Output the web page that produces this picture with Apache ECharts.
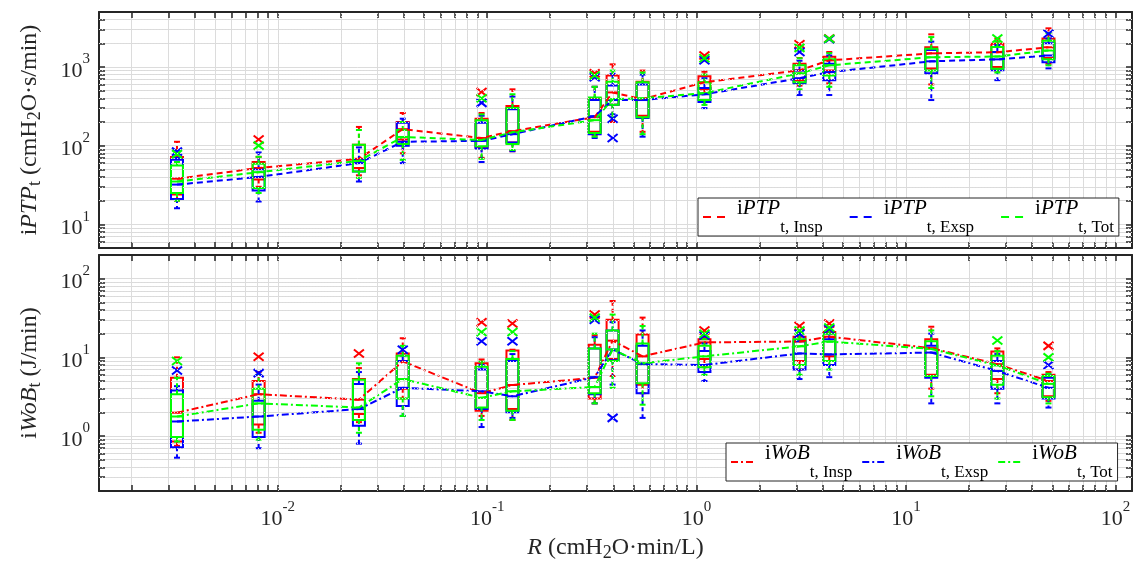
<!DOCTYPE html>
<html>
<head>
<meta charset="utf-8">
<script src="https://cdn.jsdelivr.net/npm/echarts@6/dist/echarts.min.js"></script>
<style>
  html, body { margin: 0; padding: 0; background: #fff; }
  #chart { width: 1138px; height: 567px; }
</style>
</head>
<body>
<div id="chart"></div>
<script>
// resistance levels (x positions of the boxes)
const resistance = [0.0033, 0.0081, 0.0244, 0.0395, 0.094, 0.132, 0.326, 0.397, 0.552, 1.09, 3.1, 4.3, 13.2, 27.3, 47.9];

// box stats: [min, Q1, median, Q3, max]
const ptpInsp = [
  [20, 24, 38, 72, 112], [30, 37, 52, 62, 72], [42, 52, 68, 103, 173], [80, 120, 162, 200, 260],
  [70, 95, 125, 220, 260], [85, 110, 153, 320, 520], [135, 150, 230, 400, 560], [200, 330, 475, 780, 1080],
  [150, 240, 390, 650, 900], [460, 520, 640, 760, 870], [580, 680, 907, 1100, 1300], [620, 900, 1215, 1350, 1550],
  [600, 960, 1490, 1780, 2600], [900, 1000, 1540, 1970, 2300], [1100, 1300, 1780, 2300, 3100]
];
const ptpExsp = [
  [16, 21, 32, 66, 70], [19.5, 27, 40, 50, 82], [35, 47, 60, 66, 95], [60, 100, 112, 195, 220],
  [62, 92, 115, 195, 240], [85, 110, 140, 290, 420], [125, 140, 237, 380, 560], [250, 330, 380, 580, 820],
  [130, 225, 380, 600, 800], [300, 360, 450, 540, 720], [440, 620, 720, 900, 1200], [440, 680, 860, 1100, 1400],
  [380, 830, 1180, 1650, 2100], [680, 910, 1250, 1550, 1900], [960, 1150, 1400, 2000, 2300]
];
const ptpTot = [
  [20, 25, 35, 56, 62], [25, 29, 46, 59, 72], [39, 47, 64, 103, 158], [66, 105, 129, 158, 200],
  [68, 98, 118, 210, 250], [88, 105, 148, 300, 450], [130, 145, 211, 410, 560], [230, 330, 390, 650, 900],
  [140, 230, 400, 640, 850], [330, 380, 465, 640, 800], [520, 640, 830, 1050, 1290], [560, 780, 1050, 1250, 1500],
  [540, 900, 1330, 1700, 2400], [850, 950, 1360, 1800, 2100], [1050, 1250, 1620, 2150, 2700]
];
const ptpInspOut = [[], [120], [], [], [480], [], [830], [], [], [1400], [1950], [2300], [], [], []];
const ptpExspOut = [[84], [], [], [], [350], [], [740], [220, 125], [], [1220], [1550], [2250], [], [], [2650]];
const ptpTotOut = [[78], [100], [], [], [400], [], [780], [], [], [1290], [1750], [2280], [], [2300], []];

const wobInsp = [
  [0.75, 0.85, 1.98, 5.5, 10], [1.1, 1.4, 3.4, 5.0, 6.5], [1.5, 1.9, 2.9, 5.3, 7.3], [3.0, 4.0, 8.9, 11.2, 17.5],
  [1.8, 2.1, 3.5, 8.4, 9.4], [1.6, 2.2, 4.45, 12.2, 12.5], [2.6, 3.0, 5.5, 14.5, 19], [5.8, 9.5, 16.3, 30, 52],
  [3.5, 4.5, 10.3, 19.5, 32], [7.5, 9.5, 15.5, 17, 18], [7, 9, 15.9, 18.3, 21], [8, 10.3, 18.3, 21, 24],
  [4, 6, 13.1, 17, 24.5], [3.5, 5.3, 8.2, 11.9, 13], [2.8, 3.2, 5.0, 6.0, 6.5]
];
const wobExsp = [
  [0.53, 0.72, 1.53, 3.8, 4.3], [0.7, 0.97, 1.77, 2.8, 4.5], [0.8, 1.35, 2.2, 4.6, 6.5], [1.8, 2.4, 4.1, 9.0, 10.5],
  [1.3, 2.2, 3.7, 7.0, 8.0], [1.7, 2.0, 3.2, 9.0, 11], [2.6, 3.4, 5.6, 13, 18], [4.5, 9.2, 12.6, 22, 28],
  [1.7, 3.5, 8.2, 14, 22], [5.0, 6.5, 8.0, 12, 15], [5.3, 7, 11.2, 16, 19], [5.6, 8, 10.9, 17, 20],
  [2.6, 5.5, 11.5, 14, 20], [2.6, 4, 6.7, 9, 11], [2.3, 3.0, 4.1, 5.5, 6]
];
const wobTot = [
  [0.85, 0.97, 1.77, 3.4, 5.5], [0.9, 1.2, 2.6, 4.0, 6.0], [1.1, 1.6, 2.3, 5.2, 8.4], [1.8, 3.0, 5.3, 10.5, 14],
  [1.6, 2.3, 3.06, 7.6, 8.8], [1.6, 2.1, 3.7, 9.5, 12], [2.6, 3.5, 4.2, 13, 20], [4.1, 9.0, 12.6, 22, 35],
  [2.5, 4.7, 8.4, 15, 25], [6, 7.5, 10.3, 14, 17], [6, 8, 13.8, 17, 20], [7, 9, 15.9, 20, 23],
  [3.2, 5.8, 12.8, 16, 22], [3, 4.5, 7.9, 10.5, 12], [2.6, 3.1, 4.6, 5.8, 6.2]
];
const wobInspOut = [[], [10.2], [11.2], [], [28], [27], [35], [], [], [22], [25], [27], [], [], [14]];
const wobExspOut = [[6.8], [6.3], [], [12.5], [16], [16], [30], [1.7], [], [19], [20], [23], [], [], [8]];
const wobTotOut = [[9.0], [], [], [], [21], [21], [32], [], [], [20], [22], [24], [], [16.4], [10]];

const xRange = [0.0014, 120];
const ptpRange = [5, 5000];
const wobRange = [0.2, 200];

const RED = '#ff0000', BLUE = '#0000ff', GREEN = '#00ff00';
const SERIF = '"Liberation Serif", "Times New Roman", serif';
const INK = '#262626';

const chart = echarts.init(document.getElementById('chart'), null, { renderer: 'canvas' });

function logTicks(lo, hi, minorOnly) {
  const out = [];
  for (let k = -4; k <= 4; k++) {
    for (let m = 1; m <= 9; m++) {
      if (minorOnly && m === 1) continue;
      const v = Number((m * Math.pow(10, k)).toPrecision(6));
      if (v > lo * 1.0001 && v < hi * 0.9999) out.push(v);
    }
  }
  return out;
}

function boxItems(stats) {
  return stats.map((s, i) => [resistance[i]].concat(s));
}
function outItems(outs) {
  const res = [];
  outs.forEach((list, i) => list.forEach(v => res.push([resistance[i], v])));
  return res;
}
function medians(stats) {
  return stats.map((s, i) => [resistance[i], s[2]]);
}

function renderBox(params, api) {
  const x = api.value(0);
  const lo = api.coord([x, api.value(1)]);
  const q1 = api.coord([x, api.value(2)]);
  const md = api.coord([x, api.value(3)]);
  const q3 = api.coord([x, api.value(4)]);
  const hi = api.coord([x, api.value(5)]);
  const color = api.visual('color');
  const cx = q1[0], hw = 6, cw = 3;
  const solid = { stroke: color, lineWidth: 2, fill: null };
  const dash = { stroke: color, lineWidth: 2, lineDash: [4, 3], fill: null };
  return {
    type: 'group',
    children: [
      { type: 'line', shape: { x1: cx, y1: q3[1], x2: cx, y2: hi[1] }, style: dash },
      { type: 'line', shape: { x1: cx, y1: q1[1], x2: cx, y2: lo[1] }, style: dash },
      { type: 'line', shape: { x1: cx - cw, y1: hi[1], x2: cx + cw, y2: hi[1] }, style: solid },
      { type: 'line', shape: { x1: cx - cw, y1: lo[1], x2: cx + cw, y2: lo[1] }, style: solid },
      { type: 'rect', shape: { x: cx - hw, y: q3[1], width: 2 * hw, height: q1[1] - q3[1] }, style: solid },
      { type: 'line', shape: { x1: cx - hw, y1: md[1], x2: cx + hw, y2: md[1] }, style: solid }
    ]
  };
}

function renderCross(params, api) {
  const p = api.coord([api.value(0), api.value(1)]);
  const color = api.visual('color');
  const st = { stroke: color, lineWidth: 2 };
  return {
    type: 'group',
    children: [
      { type: 'line', shape: { x1: p[0] - 5, y1: p[1] - 4, x2: p[0] + 5, y2: p[1] + 4 }, style: st },
      { type: 'line', shape: { x1: p[0] - 5, y1: p[1] + 4, x2: p[0] + 5, y2: p[1] - 4 }, style: st }
    ]
  };
}

const powRichX = {
  g: { lineHeight: 30, width: 0 },
  b: { fontFamily: SERIF, fontSize: 22, lineHeight: 22, verticalAlign: 'bottom', color: INK },
  s: { fontFamily: SERIF, fontSize: 15, lineHeight: 18, verticalAlign: 'top', color: INK }
};
const powRichY = {
  g: { lineHeight: 30, width: 0 },
  b: { fontFamily: SERIF, fontSize: 22, lineHeight: 22, verticalAlign: 'bottom', color: INK },
  s: { fontFamily: SERIF, fontSize: 15, lineHeight: 24, verticalAlign: 'top', color: INK }
};
function powLabel(v) {
  const e = Math.round(Math.log10(v));
  if (Math.abs(Math.log10(v) - e) > 1e-6) return '';
  return '{g|\u200b}{b|10}{s|' + e + '}';
}

const nameRich = {
  g: { lineHeight: 36, width: 0 },
  n: { fontFamily: SERIF, fontSize: 24, lineHeight: 26, verticalAlign: 'top', color: INK },
  it: { fontFamily: SERIF, fontSize: 24, fontStyle: 'italic', lineHeight: 26, verticalAlign: 'top', color: INK },
  sub: { fontFamily: SERIF, fontSize: 18, lineHeight: 20, verticalAlign: 'bottom', color: INK }
};

const legendRich = {
  g: { lineHeight: 38, width: 7 },
  n: { fontFamily: SERIF, fontSize: 21, lineHeight: 28, verticalAlign: 'top', color: '#000' },
  it: { fontFamily: SERIF, fontSize: 21, fontStyle: 'italic', lineHeight: 28, verticalAlign: 'top', color: '#000' },
  sub: { fontFamily: SERIF, fontSize: 17, lineHeight: 18, verticalAlign: 'bottom', color: '#000' }
};
const legendText = {
  ptpInsp: '{g|\u200b}{n|i}{it|PTP}{sub|t, Insp}',
  ptpExsp: '{g|\u200b}{n|i}{it|PTP}{sub|t, Exsp}',
  ptpTot: '{g|\u200b}{n|i}{it|PTP}{sub|t, Tot}',
  wobInsp: '{g|\u200b}{n|i}{it|WoB}{sub|t, Insp}',
  wobExsp: '{g|\u200b}{n|i}{it|WoB}{sub|t, Exsp}',
  wobTot: '{g|\u200b}{n|i}{it|WoB}{sub|t, Tot}'
};

function xAxisDef(gridIndex, position, withLabels) {
  return {
    type: 'log', logBase: 10, gridIndex: gridIndex, position: position,
    min: xRange[0], max: xRange[1],
    axisLine: { show: true, onZero: false, lineStyle: { color: INK, width: 2 } },
    axisTick: { show: true, inside: true, length: 6, customValues: logTicks(xRange[0], xRange[1], false),
      lineStyle: { color: INK, width: 1.5 } },
    axisLabel: withLabels
      ? { show: true, margin: 9, formatter: powLabel, rich: powRichX, showMinLabel: false, showMaxLabel: false }
      : { show: false },
    splitLine: { show: position === 'bottom', lineStyle: { color: '#dcdcdc', width: 1 } },
    name: withLabels ? '{it|R}{n| (cmH}{sub|2}{n|O\u00b7min/L)}' : '',
    nameLocation: 'middle', nameGap: 45,
    nameTextStyle: { fontFamily: SERIF, rich: nameRich }
  };
}

function yAxisDef(gridIndex, position, range, name) {
  return {
    type: 'log', logBase: 10, gridIndex: gridIndex, position: position,
    min: range[0], max: range[1],
    axisLine: { show: true, onZero: false, lineStyle: { color: INK, width: 2 } },
    axisTick: { show: true, inside: true, length: 6, customValues: logTicks(range[0], range[1], false),
      lineStyle: { color: INK, width: 1.5 } },
    axisLabel: position === 'left'
      ? { show: true, margin: 9, formatter: powLabel, rich: powRichY, showMinLabel: false, showMaxLabel: false }
      : { show: false },
    splitLine: { show: position === 'left', lineStyle: { color: '#dcdcdc', width: 1 } },
    name: name || '',
    nameLocation: 'middle', nameGap: 55, nameRotate: 90,
    nameTextStyle: { fontFamily: SERIF, rich: nameRich }
  };
}

function minorGrid(xi, yi, yRange) {
  const marks = logTicks(xRange[0], xRange[1], true).map(v => ({ xAxis: v }))
    .concat(logTicks(yRange[0], yRange[1], true).map(v => ({ yAxis: v })));
  return {
    type: 'line', xAxisIndex: xi, yAxisIndex: yi, data: [], z: 1, silent: true,
    markLine: {
      silent: true, symbol: 'none', animation: false,
      label: { show: false },
      lineStyle: { color: '#dadada', type: [1, 2], width: 1 },
      emphasis: { disabled: true },
      data: marks
    }
  };
}

function boxSeries(stats, color, xi, yi) {
  return {
    type: 'custom', xAxisIndex: xi, yAxisIndex: yi, z: 3, silent: true,
    itemStyle: { color: color },
    renderItem: renderBox,
    encode: { x: 0, y: [1, 2, 3, 4, 5] },
    data: boxItems(stats)
  };
}
function outSeries(outs, color, xi, yi) {
  return {
    type: 'custom', xAxisIndex: xi, yAxisIndex: yi, z: 3, silent: true,
    itemStyle: { color: color },
    renderItem: renderCross,
    encode: { x: 0, y: 1 },
    data: outItems(outs)
  };
}
function lineSeries(name, stats, color, dash, xi, yi) {
  return {
    name: name, type: 'line', xAxisIndex: xi, yAxisIndex: yi, z: 4,
    symbol: 'none', silent: true,
    lineStyle: { color: color, width: 2, type: dash },
    itemStyle: { color: color },
    data: medians(stats)
  };
}

const DASH = [6, 4];
const DASHDOT = [7, 3, 2, 3];

function legendDef(names, left, top, gap, iconDash) {
  return {
    data: names, left: left, top: top, orient: 'horizontal',
    itemWidth: 22, itemHeight: 10, itemGap: gap,
    padding: [0, 5, 0, 4],
    borderColor: INK, borderWidth: 1, backgroundColor: '#fff',
    selectedMode: false, z: 10,
    itemStyle: { opacity: 0 },
    lineStyle: { width: 2, type: iconDash },
    formatter: name => legendText[name],
    textStyle: { fontFamily: SERIF, rich: legendRich }
  };
}

const option = {
  animation: false,
  backgroundColor: '#fff',
  grid: [
    { left: 99, right: 6, top: 12, height: 236 },
    { left: 99, right: 6, top: 255, height: 236 }
  ],
  xAxis: [
    xAxisDef(0, 'bottom', false),
    xAxisDef(0, 'top', false),
    xAxisDef(1, 'bottom', true),
    xAxisDef(1, 'top', false)
  ],
  yAxis: [
    yAxisDef(0, 'left', ptpRange, '{n|i}{it|PTP}{sub|t}{n| (cmH}{sub|2}{n|O\u00b7s/min)}'),
    yAxisDef(0, 'right', ptpRange),
    yAxisDef(1, 'left', wobRange, '{n|i}{it|WoB}{sub|t}{n| (J/min)}'),
    yAxisDef(1, 'right', wobRange)
  ],
  legend: [
    legendDef(['ptpInsp', 'ptpExsp', 'ptpTot'], 698, 198, 26, [8, 6]),
    legendDef(['wobInsp', 'wobExsp', 'wobTot'], 726, 443, 9, DASHDOT)
  ],
  series: [
    minorGrid(0, 0, ptpRange),
    minorGrid(2, 2, wobRange),
    boxSeries(ptpInsp, RED, 0, 0),
    boxSeries(ptpExsp, BLUE, 0, 0),
    boxSeries(ptpTot, GREEN, 0, 0),
    outSeries(ptpInspOut, RED, 0, 0),
    outSeries(ptpExspOut, BLUE, 0, 0),
    outSeries(ptpTotOut, GREEN, 0, 0),
    lineSeries('ptpInsp', ptpInsp, RED, DASH, 0, 0),
    lineSeries('ptpExsp', ptpExsp, BLUE, DASH, 0, 0),
    lineSeries('ptpTot', ptpTot, GREEN, DASH, 0, 0),
    boxSeries(wobInsp, RED, 2, 2),
    boxSeries(wobExsp, BLUE, 2, 2),
    boxSeries(wobTot, GREEN, 2, 2),
    outSeries(wobInspOut, RED, 2, 2),
    outSeries(wobExspOut, BLUE, 2, 2),
    outSeries(wobTotOut, GREEN, 2, 2),
    lineSeries('wobInsp', wobInsp, RED, DASHDOT, 2, 2),
    lineSeries('wobExsp', wobExsp, BLUE, DASHDOT, 2, 2),
    lineSeries('wobTot', wobTot, GREEN, DASHDOT, 2, 2)
  ]
};

chart.setOption(option);
window.addEventListener('resize', () => chart.resize());
</script>
</body>
</html>
